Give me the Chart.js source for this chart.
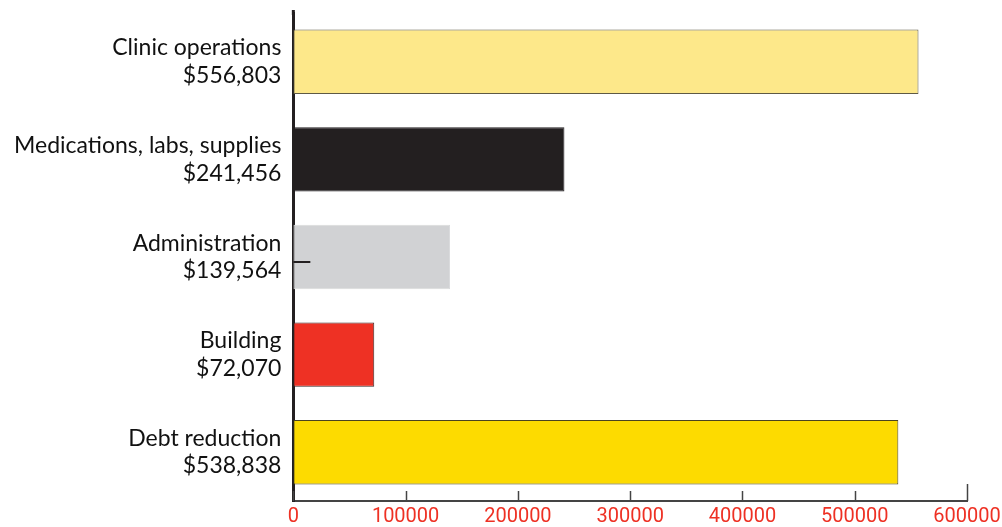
<!DOCTYPE html>
<html>
<head>
<meta charset="utf-8">
<script src="https://cdn.jsdelivr.net/npm/chart.js@4"></script>
<style>
  html, body { margin: 0; padding: 0; background: #fff; }
  #wrap { width: 1002px; height: 527px; }
</style>
</head>
<body>
<div id="wrap"><canvas id="graf" width="1002" height="527"></canvas></div>
<script>
const categories = ['Clinic operations', 'Medications, labs, supplies', 'Administration', 'Building', 'Debt reduction'];
const amountLabels = ['$556,803', '$241,456', '$139,564', '$72,070', '$538,838'];
const values = [556803, 241456, 139564, 72070, 538838];
const barColors = ['#fde88a', '#231f20', '#d1d2d4', '#ee3124', '#fddb00'];
const barBorders = ['#5e5a45', '#231f20', '#d9dadc', '#3a2a28', '#4a4320'];
const tickValues = [0, 100000, 200000, 300000, 400000, 500000, 600000];

// ticks drawn upward from the x axis, plus the little mark by Administration
const upTicks = {
    id: 'upTicks',
    afterDraw(chart) {
        const ctx = chart.ctx;
        const x = chart.scales.x;
        const y = chart.scales.y;
        const bottom = chart.chartArea.bottom;
        ctx.save();
        ctx.strokeStyle = '#444';
        ctx.lineWidth = 1.5;
        tickValues.forEach((v, i) => {
            const px = Math.round(x.getPixelForValue(v)) + 0.5;
            const len = i === tickValues.length - 1 ? 17 : 10;
            ctx.beginPath();
            ctx.moveTo(px, bottom);
            ctx.lineTo(px, bottom - len);
            ctx.stroke();
        });
        // left axis runs a little above the plot
        ctx.strokeStyle = '#231f20';
        ctx.lineWidth = 3;
        const x0 = x.getPixelForValue(0);
        ctx.beginPath();
        ctx.moveTo(x0, chart.chartArea.top - 3);
        ctx.lineTo(x0, chart.chartArea.top + 2);
        ctx.stroke();
        ctx.lineWidth = 2;
        const py = Math.round(y.getPixelForValue(2)) + 5;
        ctx.beginPath();
        ctx.moveTo(x0, py);
        ctx.lineTo(x0 + 17, py);
        ctx.stroke();
        ctx.restore();
    }
};

new Chart(document.getElementById('graf').getContext('2d'), {
    type: 'bar',
    data: {
        labels: categories.map((c, i) => [c, amountLabels[i]]),
        datasets: [{
            data: values,
            backgroundColor: barColors,
            borderColor: barBorders,
            borderWidth: 1,
            borderSkipped: false,
            categoryPercentage: 1,
            barPercentage: 0.66
        }]
    },
    options: {
        indexAxis: 'y',
        responsive: false,
        animation: false,
        layout: { padding: { top: 13, right: 35, bottom: -6, left: 2 } },
        plugins: { legend: { display: false }, tooltip: { enabled: false } },
        scales: {
            x: {
                type: 'linear',
                min: 0,
                max: 600000,
                afterBuildTicks: s => { s.ticks = tickValues.map(v => ({ value: v })); },
                afterFit: s => { s.paddingLeft = 0; s.paddingRight = 0; },
                grid: { display: false, drawTicks: false },
                border: { display: true, color: '#444', width: 2 },
                ticks: {
                    color: '#ee3124',
                    padding: 4,
                    maxRotation: 0,
                    font: { family: 'Roboto', size: 20 },
                    callback: v => String(v)
                }
            },
            y: {
                afterFit: s => { s.paddingTop = 0; s.paddingBottom = 0; },
                grid: { display: false, drawTicks: false },
                border: { display: true, color: '#231f20', width: 3 },
                ticks: {
                    color: '#111',
                    padding: 12,
                    font: { family: 'Lato', size: 23 },
                    lineHeight: 1.4
                }
            }
        }
    },
    plugins: [upTicks]
});
</script>
</body>
</html>
